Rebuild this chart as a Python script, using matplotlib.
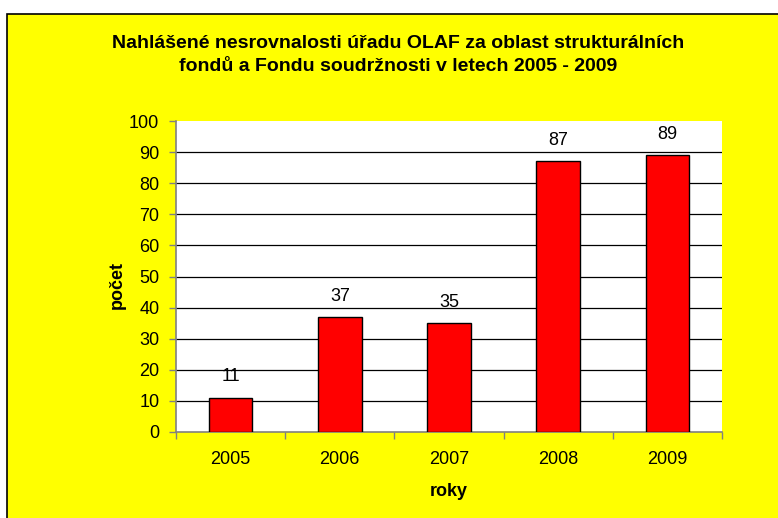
import matplotlib
matplotlib.use("Agg")
import matplotlib.pyplot as plt
from matplotlib.patches import Rectangle

years = ["2005", "2006", "2007", "2008", "2009"]
values = [11, 37, 35, 87, 89]
yticks = [0, 10, 20, 30, 40, 50, 60, 70, 80, 90, 100]
title = "Nahlášené nesrovnalosti úřadu OLAF za oblast strukturálních\nfondů a Fondu soudržnosti v letech 2005 - 2009"

plt.rcParams['font.family'] = ['Liberation Sans', 'DejaVu Sans']

W, H = 778, 518
fig = plt.figure(figsize=(W / 100, H / 100), dpi=100, facecolor="white")

# yellow chart frame
fig.patches.append(Rectangle((7 / W, -0.01), 1.0, 1 - 14 / H + 0.01, transform=fig.transFigure,
                             facecolor="#FFFF00", edgecolor="black", linewidth=1.2, zorder=-5))

left, right, top, bottom = 176, 722, 121, 432
ax = fig.add_axes([left / W, 1 - bottom / H, (right - left) / W, (bottom - top) / H])
ax.set_zorder(2)
ax.set_facecolor("white")

fs = 13
x = list(range(len(years)))
ax.bar(x, values, width=0.4, color="#FF0000", edgecolor="black", linewidth=1.0, zorder=3)
for xi, v in zip(x, values):
    ax.annotate(str(v), (xi, v), xytext=(0, 15), textcoords="offset points",
                ha="center", va="center", fontsize=fs)

ax.set_xlim(-0.5, len(years) - 0.5)
ax.set_ylim(0, 100)
ax.set_yticks(yticks)
ax.set_yticklabels([str(t) for t in yticks], fontsize=fs)
for t in yticks[1:-1]:
    ax.axhline(t, color="black", linewidth=0.9, zorder=1)

ax.set_xticks(x)
ax.set_xticklabels(years, fontsize=fs)
ax.tick_params(axis="x", length=0, pad=14)
# category boundary ticks
ax.set_xticks([i - 0.5 for i in range(len(years) + 1)], minor=True)
ax.tick_params(axis="x", which="minor", length=5, color="#808080", width=1)
ax.tick_params(axis="y", length=5, color="#808080", width=1, pad=7)

for s in ["top", "right"]:
    ax.spines[s].set_visible(False)
for s in ["left", "bottom"]:
    ax.spines[s].set_color("#808080")
    ax.spines[s].set_linewidth(1.2)

ax.set_ylabel("počet", fontsize=fs, fontweight="bold")
ax.set_xlabel("roky", fontsize=fs, fontweight="bold")
ax.yaxis.set_label_coords((117 - left) / (right - left), (bottom - 285) / (bottom - top))
ax.xaxis.set_label_coords(0.5, (bottom - 491) / (bottom - top))
ax.yaxis.label.set_va("center")
ax.xaxis.label.set_va("center")

fig.text(398 / W, 1 - 55 / H, title, ha="center", va="center", fontsize=14,
         fontweight="bold", linespacing=1.4)

fig.savefig("out.png", dpi=100, facecolor=fig.get_facecolor())
